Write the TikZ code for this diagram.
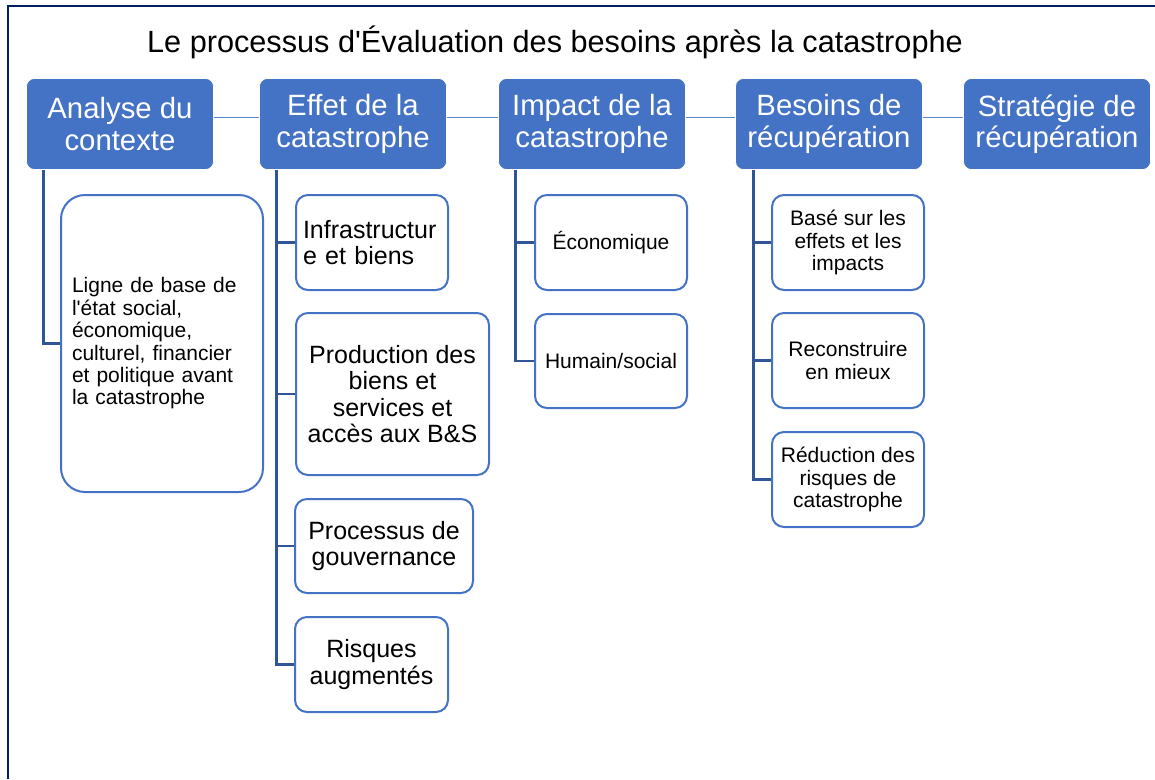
\documentclass[tikz,border=0pt]{standalone}
\usepackage{fontspec}
\setmainfont{Liberation Sans}
\usepackage{tikz}

\definecolor{hdrblue}{HTML}{4472C4}
\definecolor{spineblue}{HTML}{2F5597}
\definecolor{linkblue}{HTML}{5B86D0}
\definecolor{framenavy}{HTML}{002060}

\begin{document}
\begin{tikzpicture}[x=0.75pt,y=-0.75pt]
      \tikzset{
        header/.style={draw=white,line width=0.5pt,fill=hdrblue,rounded corners=6pt,text=white,align=center,
          minimum width=140.25pt,minimum height=68.25pt,inner sep=0pt,font=\fontsize{22}{23.5}\selectfont},
        item/.style={draw=hdrblue,line width=1.5pt,fill=white,rounded corners=9pt,inner sep=0pt,text=black,align=center},
        big/.style={font=\fontsize{18.75}{19.8}\selectfont},
        small/.style={font=\fontsize{15.75}{16.8}\selectfont},
        spine/.style={draw=spineblue,line width=2.2pt},
        link/.style={draw=linkblue,line width=1.1pt}
      }
      \useasboundingbox (0,0) rectangle (1155,779);
      \draw[framenavy,line width=1.6pt] (8,779) -- (8,6) -- (1155,6);

      \node[anchor=base,font=\fontsize{23}{25}\selectfont] (title) at (555,52) {Le processus d\textquotesingle Évaluation des besoins après la catastrophe};

      \node[header] (ana) at (120,124) {Analyse du\\contexte};
      \node[header] (eff) at (353,124) {Effet de la\\catastrophe};
      \node[header] (imp) at (592,124) {Impact de la\\catastrophe};
      \node[header] (bes) at (829,124) {Besoins de\\récupération};
      \node[header] (str) at (1057,124) {Stratégie de\\récupération};

      \node[item,small,align=left,text width=135pt,minimum width=151.5pt,minimum height=222.75pt,rounded corners=18pt] (lig) at (162,343.5)
        {Ligne de base de\\l\textquotesingle état social,\\économique,\\culturel, financier\\et politique avant\\la catastrophe};

      \node[item,big,align=left,text width=103.5pt,minimum width=114pt,minimum height=71.25pt] (inf) at (372,242.5) {Infrastructur\\e et biens};
      \node[item,big,minimum width=144.75pt,minimum height=121.5pt] (pro) at (392.5,394) {Production des\\biens et\\services et\\accès aux B\&S};
      \node[item,big,minimum width=133.5pt,minimum height=70.5pt] (proc) at (384,546) {Processus de\\gouvernance};
      \node[item,big,minimum width=114.75pt,minimum height=71.25pt] (ris) at (371.5,664.5) {Risques\\augmentés};

      \node[item,small,minimum width=114pt,minimum height=71.25pt] (eco) at (611,242.5) {Économique};
      \node[item,small,minimum width=114pt,minimum height=70.5pt] (hum) at (611,361) {Humain/social};

      \node[item,small,minimum width=114pt,minimum height=71.25pt] (bas) at (848,242.5) {Basé sur les\\effets et les\\impacts};
      \node[item,small,minimum width=114pt,minimum height=71.25pt] (rec) at (848,360.5) {Reconstruire\\en mieux};
      \node[item,small,minimum width=114pt,minimum height=71.25pt] (red) at (848,479.5) {Réduction des\\risques de\\catastrophe};

      \draw[link] ([yshift=5pt]ana.east) -- ([yshift=5pt]eff.west);
      \draw[link] ([yshift=5pt]eff.east) -- ([yshift=5pt]imp.west);
      \draw[link] ([yshift=5pt]imp.east) -- ([yshift=5pt]bes.west);
      \draw[link] ([yshift=5pt]bes.east) -- ([yshift=5pt]str.west);

      \draw[spine] ([xshift=12.75pt]ana.south west) |- (lig.west);

      \draw[spine] ([xshift=12.75pt]eff.south west) |- (ris.west);
      \draw[spine] ([xshift=12.75pt]eff.south west) |- (inf.west);
      \draw[spine] ([xshift=12.75pt]eff.south west) |- (pro.west);
      \draw[spine] ([xshift=12.75pt]eff.south west) |- (proc.west);

      \draw[spine] ([xshift=12.75pt]imp.south west) |- (hum.west);
      \draw[spine] ([xshift=12.75pt]imp.south west) |- (eco.west);

      \draw[spine] ([xshift=13.5pt]bes.south west) |- (red.west);
      \draw[spine] ([xshift=13.5pt]bes.south west) |- (bas.west);
      \draw[spine] ([xshift=13.5pt]bes.south west) |- (rec.west);

    \end{tikzpicture}
\end{document}
